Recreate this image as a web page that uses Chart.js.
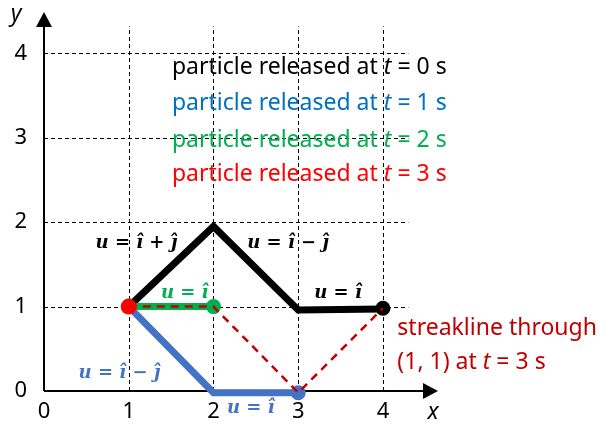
<!DOCTYPE html>
<html>
<head>
<meta charset="utf-8">
<script src="https://cdn.jsdelivr.net/npm/chart.js@4.4.0/dist/chart.umd.min.js"></script>
<style>
  html, body { margin: 0; padding: 0; background: #fff; }
  #wrap { width: 605px; height: 432px; }
</style>
</head>
<body>
<div id="wrap"><canvas id="chart" width="605" height="432"></canvas></div>
<script>
// tick labels
const xTicks = [0, 1, 2, 3, 4];
const yTicks = [0, 1, 2, 3, 4];

// pathlines of the particles released at (1, 1)
const path0 = [[1, 1], [2, 1.95], [3, 0.96], [4, 0.97]];   // released at t = 0 s
const path1 = [[1, 1], [2, -0.02], [3, -0.02]];             // released at t = 1 s
const path2 = [[1, 1], [2, 1]];                             // released at t = 2 s

// where each particle is at t = 3 s
const dot0 = [[4, 0.98]];
const dot1 = [[3, -0.02]];
const dot2 = [[2, 1]];
const dot3 = [[1, 1]];

// streakline through (1, 1) at t = 3 s
const streak = [[1, 1], [2, 1], [3, -0.02], [4, 0.98]];

const legendText = [
    ['particle released at ', 't', ' = 0 s'],
    ['particle released at ', 't', ' = 1 s'],
    ['particle released at ', 't', ' = 2 s'],
    ['particle released at ', 't', ' = 3 s']
];
const streakText = [['streakline through', '', ''], ['(1, 1) at ', 't', ' = 3 s']];

const BLACK = '#000000';
const BLUE = '#4472C4';
const GREEN = '#00B050';
const RED = '#FF0000';
const DARKRED = '#C00000';
const legendColors = ['#000000', '#0070C0', '#00B050', '#FF0000'];

const SANS = '"Noto Sans", "Open Sans", sans-serif';
const SERIF = '"DejaVu Serif", serif';

const toXY = arr => arr.map(p => ({ x: p[0], y: p[1] }));

function lineSet(data, color, width, dash) {
    return {
        data: toXY(data),
        showLine: true,
        clip: false,
        borderColor: color,
        borderWidth: width,
        borderDash: dash || [],
        borderJoinStyle: 'miter',
        pointRadius: 0,
        fill: false
    };
}

function dotSet(data, color, r) {
    return {
        data: toXY(data),
        showLine: false,
        clip: false,
        backgroundColor: color,
        borderColor: color,
        borderWidth: 0,
        pointRadius: r,
        pointHoverRadius: r
    };
}

// listed bottom to top
const layers = [
    lineSet(path0, BLACK, 7),
    lineSet(path1, BLUE, 7),
    lineSet(path2, GREEN, 7),
    dotSet(dot0, BLACK, 7.5),
    dotSet(dot1, BLUE, 7.5),
    dotSet(dot2, GREEN, 7.5),
    lineSet(streak, DARKRED, 2.5, [8, 6]),
    dotSet(dot3, RED, 8)
];
layers.forEach((ds, i) => { ds.order = layers.length - i; });

// math labels: [text, style] pieces
const B = 'bold italic 18px ' + SERIF;
const R = 'bold 18px ' + SERIF;
const mathLabels = [
    { pos: [1.09, 1.75], color: BLACK, runs: [['u', B], [' = ', R], ['ı̂', B], [' + ', R], ['ȷ̂', B]] },
    { pos: [2.88, 1.75], color: BLACK, runs: [['u', B], [' = ', R], ['ı̂', B], [' − ', R], ['ȷ̂', B]] },
    { pos: [1.66, 1.16], color: GREEN, runs: [['u', B], [' = ', R], ['ı̂', B]] },
    { pos: [3.47, 1.16], color: BLACK, runs: [['u', B], [' = ', R], ['ı̂', B]] },
    { pos: [0.89, 0.21], color: BLUE, runs: [['u', B], [' = ', R], ['ı̂', B], [' − ', R], ['ȷ̂', B]] },
    { pos: [2.44, -0.2], color: BLUE, runs: [['u', B], [' = ', R], ['ı̂', B]] }
];

function drawRuns(ctx, runs, x, y, align) {
    let total = 0;
    runs.forEach(r => { ctx.font = r[1]; total += ctx.measureText(r[0]).width; });
    let cx = align === 'center' ? x - total / 2 : x;
    runs.forEach(r => {
        ctx.font = r[1];
        ctx.fillText(r[0], cx, y);
        cx += ctx.measureText(r[0]).width;
    });
}

function sansRuns(parts, size) {
    const f = size + 'px ' + SANS;
    const fi = 'italic ' + size + 'px ' + SANS;
    return [[parts[0], f], [parts[1], fi], [parts[2], f]];
}

const paper = {
    id: 'paper',
    beforeDatasetsDraw(chart) {
        const { ctx, scales: { x, y } } = chart;
        const x0 = x.getPixelForValue(0), y0 = y.getPixelForValue(0);
        const gx = x.getPixelForValue(4.3), gy = y.getPixelForValue(4.32);
        ctx.save();
        // dashed grid
        ctx.strokeStyle = '#000';
        ctx.lineWidth = 1;
        ctx.setLineDash([4, 3]);
        xTicks.slice(1).forEach(v => {
            const px = Math.round(x.getPixelForValue(v)) + 0.5;
            ctx.beginPath(); ctx.moveTo(px, y0); ctx.lineTo(px, gy); ctx.stroke();
        });
        yTicks.slice(1).forEach(v => {
            const py = Math.round(y.getPixelForValue(v)) + 0.5;
            ctx.beginPath(); ctx.moveTo(x0, py); ctx.lineTo(gx, py); ctx.stroke();
        });
        // axes with arrow heads
        ctx.setLineDash([]);
        ctx.lineWidth = 2;
        const top = chart.chartArea.top, right = chart.chartArea.right;
        ctx.beginPath(); ctx.moveTo(x0, y0); ctx.lineTo(x0, top + 12); ctx.stroke();
        ctx.beginPath(); ctx.moveTo(x0, y0); ctx.lineTo(right - 14, y0); ctx.stroke();
        ctx.fillStyle = '#000';
        ctx.beginPath(); ctx.moveTo(x0, top); ctx.lineTo(x0 - 8, top + 15); ctx.lineTo(x0 + 8, top + 15); ctx.closePath(); ctx.fill();
        ctx.beginPath(); ctx.moveTo(right, y0); ctx.lineTo(right - 15, y0 - 8); ctx.lineTo(right - 15, y0 + 8); ctx.closePath(); ctx.fill();
        ctx.restore();
    },
    afterDatasetsDraw(chart) {
        const { ctx, scales: { x, y } } = chart;
        ctx.save();
        ctx.textBaseline = 'middle';
        // legend text
        const legY = [3.83, 3.41, 2.97, 2.56];
        legendText.forEach((parts, i) => {
            ctx.fillStyle = legendColors[i];
            drawRuns(ctx, sansRuns(parts, 23), x.getPixelForValue(1.51), y.getPixelForValue(legY[i]), 'left');
        });
        // streakline note
        ctx.fillStyle = DARKRED;
        drawRuns(ctx, sansRuns(streakText[0], 23), x.getPixelForValue(4.17), y.getPixelForValue(0.745), 'left');
        drawRuns(ctx, sansRuns(streakText[1], 23), x.getPixelForValue(4.17), y.getPixelForValue(0.34), 'left');
        // velocity labels
        mathLabels.forEach(l => {
            ctx.fillStyle = l.color;
            drawRuns(ctx, l.runs, x.getPixelForValue(l.pos[0]), y.getPixelForValue(l.pos[1]), 'center');
        });
        // axis titles
        ctx.fillStyle = '#000';
        ctx.font = 'italic 23px ' + SANS;
        ctx.textAlign = 'center';
        ctx.fillText('y', 16, 14);
        ctx.fillText('x', 433, 412);
        ctx.restore();
    }
};

new Chart(document.getElementById('chart'), {
    type: 'scatter',
    data: { datasets: layers },
    options: {
        responsive: false,
        animation: false,
        events: [],
        layout: { padding: { top: 12, right: 167, left: 0, bottom: 0 } },
        plugins: { legend: { display: false }, tooltip: { enabled: false } },
        scales: {
            x: {
                type: 'linear', min: 0, max: 4.65,
                grid: { display: false, drawTicks: false },
                border: { display: false },
                afterBuildTicks: s => { s.ticks = xTicks.map(v => ({ value: v })); },
                afterFit: s => { s.height = 41; s.paddingLeft = 0; s.paddingRight = 0; },
                ticks: { color: '#000', padding: 8, font: { family: SANS, size: 22 } }
            },
            y: {
                type: 'linear', min: 0, max: 4.49,
                grid: { display: false, drawTicks: false },
                border: { display: false },
                afterBuildTicks: s => { s.ticks = yTicks.map(v => ({ value: v })); },
                afterFit: s => { s.width = 44; s.paddingTop = 0; s.paddingBottom = 0; },
                ticks: { color: '#000', padding: 17, font: { family: SANS, size: 22 } }
            }
        }
    },
    plugins: [paper]
});
</script>
</body>
</html>
